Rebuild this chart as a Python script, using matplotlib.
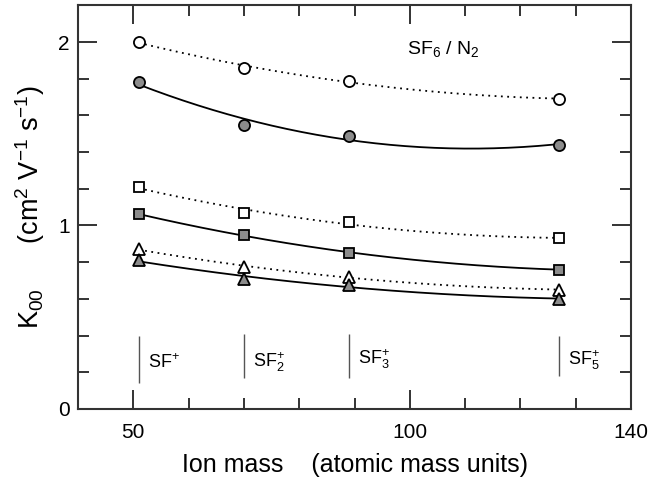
import numpy as np
import matplotlib
matplotlib.use("Agg")
import matplotlib.pyplot as plt
from matplotlib.ticker import FixedLocator

plt.rcParams['font.family'] = ['Liberation Sans', 'DejaVu Sans']
plt.rcParams['mathtext.fontset'] = 'custom'
plt.rcParams['mathtext.rm'] = 'Liberation Sans'
plt.rcParams['mathtext.it'] = 'Liberation Sans:italic'
plt.rcParams['mathtext.bf'] = 'Liberation Sans:bold'

# ion masses (amu) and K00 values
mass = [51, 70, 89, 127]
circle_open = [2.00, 1.86, 1.79, 1.69]
circle_fill = [1.78, 1.55, 1.49, 1.44]
square_open = [1.21, 1.07, 1.02, 0.93]
square_fill = [1.06, 0.95, 0.85, 0.76]
tri_open = [0.87, 0.775, 0.72, 0.65]
tri_fill = [0.81, 0.71, 0.675, 0.60]

# ion markers along the bottom
ion_names = ['SF$^{+}$', 'SF$_2^{+}$', 'SF$_3^{+}$', 'SF$_5^{+}$']
ion_top = [0.40, 0.41, 0.41, 0.40]
ion_bottom = [0.14, 0.17, 0.17, 0.18]
ion_label_y = [0.25, 0.255, 0.27, 0.265]

GREY = '#8c8c8c'

fig = plt.figure(figsize=(6.49, 4.87), dpi=100)
ax = fig.add_axes([0.1202, 0.1602, 0.8521, 0.8289])

xfit = np.linspace(mass[0], mass[-1], 200)
series = [
    (circle_open, 'o', 'white', ':', 8),
    (circle_fill, 'o', GREY, '-', 8),
    (square_open, 's', 'white', ':', 7),
    (square_fill, 's', GREY, '-', 7),
    (tri_open, '^', 'white', ':', 8),
    (tri_fill, '^', GREY, '-', 8),
]
for vals, mk, fc, ls, ms in series:
    # quadratic fit curve, as in the original figure
    coef = np.polyfit(mass, vals, 2)
    if ls == ':':
        ax.plot(xfit, np.polyval(coef, xfit), color='black', lw=1.3,
                linestyle=(0, (1, 2.5)), zorder=2)
    else:
        ax.plot(xfit, np.polyval(coef, xfit), color='black', lw=1.3, zorder=2)
    ax.plot(mass, vals, linestyle='none', marker=mk, ms=ms, mfc=fc,
            mec='black', mew=1.3, zorder=3)

ax.vlines(mass, ion_bottom, ion_top, color='#555555', lw=1)
for m, name, y in zip(mass, ion_names, ion_label_y):
    ax.text(m + 1.6, y, name, fontsize=13, va='center', ha='left')

ax.text(99.5, 1.96, 'SF$_6$ / N$_2$', fontsize=14, va='center', ha='left')

ax.set_xlim(40, 140)
ax.set_ylim(0, 2.2)
ax.xaxis.set_major_locator(FixedLocator([50, 100, 140]))
ax.xaxis.set_minor_locator(FixedLocator([60, 70, 80, 90, 110, 120, 130]))
ax.yaxis.set_major_locator(FixedLocator([0, 1, 2]))
ax.yaxis.set_minor_locator(FixedLocator([0.2, 0.4, 0.6, 0.8, 1.2, 1.4, 1.6, 1.8]))
ax.set_xticklabels(['50', '100', '140'])
ax.set_yticklabels(['0', '1', '2'])

ax.tick_params(which='both', direction='in', top=True, right=True,
               width=1.4, color='#333333')
ax.tick_params(which='major', length=13.5)
ax.tick_params(which='minor', length=8)
ax.tick_params(axis='x', which='major', pad=10, labelsize=15)
ax.tick_params(axis='y', which='major', pad=6, labelsize=15)
for sp in ax.spines.values():
    sp.set_linewidth(1.5)
    sp.set_color('#333333')

ax.set_xlabel('Ion mass    (atomic mass units)', fontsize=18, labelpad=8)
ax.set_ylabel('K$_{00}$      (cm$^2$ V$^{-1}$ s$^{-1}$)', fontsize=19.5, labelpad=8)

fig.savefig('out.png', dpi=100)
